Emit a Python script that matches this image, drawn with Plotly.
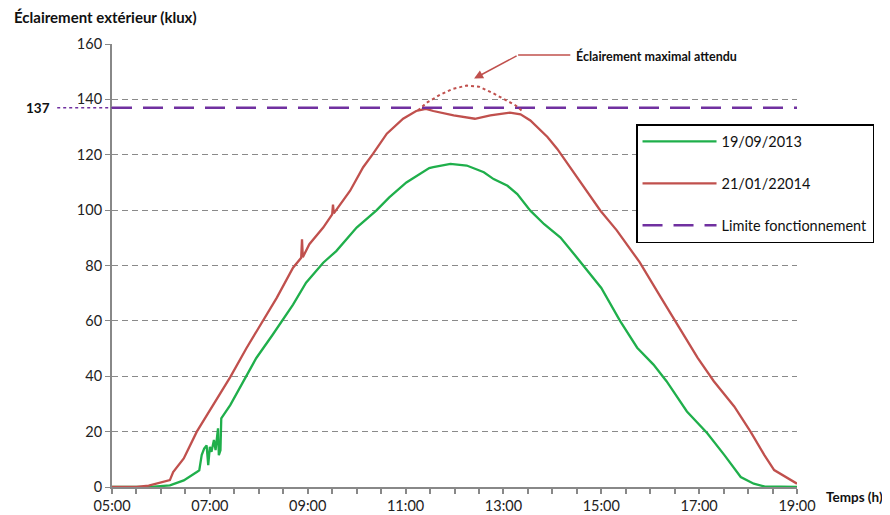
import plotly.graph_objects as go

DAY = "2000-01-01 "

# 19/09/2013 series (klux)
green_times = ["05:00", "05:47", "06:11", "06:28", "06:44", "06:47", "06:50", "06:53", "06:56", "06:58",
               "07:00", "07:02", "07:05", "07:07", "07:10", "07:11", "07:13", "07:14", "07:25", "07:41",
               "07:57", "08:17", "08:28", "08:42", "08:58", "09:19", "09:35", "10:00", "10:24", "10:40",
               "11:01", "11:17", "11:29", "11:34", "11:55", "12:15", "12:36", "12:48", "13:05", "13:17",
               "13:33", "13:50", "14:10", "14:27", "14:43", "15:00", "15:23", "15:44", "16:04", "16:20",
               "16:45", "17:10", "17:31", "17:51", "18:07", "18:20", "19:00"]
green_vals = [0, 0, 0.6, 2.4, 5.4, 6, 11.5, 13.9, 15, 7.9,
              14.5, 12.7, 17, 13.3, 21.2, 11.5, 13.3, 24.8, 29.6, 38.1,
              46.6, 55, 59.9, 65.9, 73.8, 81, 85.2, 93.7, 99.8, 104.6,
              110, 113, 115.2, 115.5, 116.7, 116.1, 113.7, 111.2, 108.8, 105.8,
              99.8, 94.9, 90.1, 84, 78, 71.9, 60, 50.3, 44.2, 38.2,
              27.3, 19.4, 11.5, 3.6, 1.2, 0.2, 0]

# 21/01/2014 series (klux)
red_times = ["05:00", "05:30", "05:45", "06:00", "06:11", "06:15", "06:28", "06:44", "07:04", "07:25",
             "07:45", "08:05", "08:22", "08:42", "08:52", "08:53", "08:54", "09:02", "09:19", "09:30",
             "09:31", "09:32", "09:52", "10:08", "10:20", "10:37", "10:57", "11:13", "11:25", "11:34",
             "11:59", "12:25", "12:44", "13:08", "13:21", "13:33", "13:54", "14:06", "14:19", "14:39",
             "14:59", "15:19", "15:47", "16:13", "16:33", "16:58", "17:18", "17:43", "18:03", "18:20",
             "18:32", "18:49", "19:00"]
red_vals = [0, 0, 0.5, 1.5, 2.5, 5.4, 10.3, 20, 29.6, 39.7,
            50.2, 59.9, 68.3, 79.2, 82.8, 89.5, 83, 87.7, 93.7, 98.5,
            102, 98.8, 107, 115.5, 120.3, 127.6, 133, 135.8, 136.6, 135.8,
            134.2, 133, 134.2, 135.2, 134.6, 132.4, 126.4, 122.1, 116.7, 108.2,
            99.8, 92.7, 81.2, 68.5, 58.8, 46.7, 38.2, 29.1, 20, 11.5,
            6.1, 3, 1.2]

# Expected maximum illumination (dotted arc)
expected_times = ["11:15", "11:27", "11:42", "11:57", "12:15", "12:30", "12:47", "13:02", "13:15", "13:24"]
expected_vals = [136, 139, 141.6, 143.7, 145, 144.6, 142.3, 140, 137.8, 135.5]

# Operating limit
limit_value = 137
x_range = ["05:00", "19:00"]

GREEN = "#1FAF4B"
RED = "#C0504D"
PURPLE = "#7030A0"
FONT = "Lato"

def t(lst):
    return [DAY + s for s in lst]

fig = go.Figure()
fig.add_trace(go.Scatter(x=t(green_times), y=green_vals, mode="lines", name="19/09/2013",
                         line=dict(color=GREEN, width=2.3), legendgroup="g1"))
fig.add_trace(go.Scatter(x=t(red_times), y=red_vals, mode="lines", name="21/01/22014",
                         line=dict(color=RED, width=2.3), legendgroup="g2"))
fig.add_trace(go.Scatter(x=t(x_range), y=[limit_value, limit_value], mode="lines",
                         name="Limite fonctionnement",
                         line=dict(color=PURPLE, width=2.5, dash="20px,11px"), legendgroup="g3"))
fig.add_trace(go.Scatter(x=t(expected_times), y=expected_vals, mode="lines", showlegend=False,
                         line=dict(color=RED, width=2, dash="dot"), legendgroup="g4"))

# The page body adds an 8px margin, so the figure is sized/offset to compensate.
fig.update_layout(
    width=882, height=507,
    margin=dict(l=104, r=93, t=36, b=28, autoexpand=False),
    paper_bgcolor="white", plot_bgcolor="white",
    font=dict(family=FONT, size=14, color="#222"),
    showlegend=True,
    legend=dict(x=0.765, y=0.8194, xanchor="left", yanchor="top",
                bordercolor="black", borderwidth=1.5, bgcolor="white",
                font=dict(family=FONT, size=14.5, color="#111"),
                tracegroupgap=20, itemwidth=74, traceorder="grouped"),
)

fig.update_xaxes(
    type="date", range=t(x_range), tickformat="%H:%M",
    tick0=DAY + "05:00", dtick=2 * 3600 * 1000,
    ticks="outside", ticklen=5, tickcolor="#888", tickwidth=1.5,
    minor=dict(dtick=30 * 60 * 1000, ticks="outside", ticklen=5, tickcolor="#888", tickwidth=1.5),
    showline=True, linecolor="#888", linewidth=2, showgrid=False, zeroline=False,
    tickfont=dict(family=FONT, size=14.5, color="#222"),
)
fig.update_yaxes(
    range=[0, 160], dtick=20, ticks="outside", ticklen=5, tickcolor="#888",
    showline=True, linecolor="#888", linewidth=2,
    showgrid=True, gridcolor="#8a8a8a", gridwidth=1, griddash="6px,4px", zeroline=False,
    tickfont=dict(family=FONT, size=14.5, color="#222"),
)

# Axis titles
fig.add_annotation(text="<b>Éclairement extérieur (klux)</b>", xref="paper", yref="paper",
                   x=-0.146, y=1.061, xanchor="left", yanchor="middle", showarrow=False,
                   font=dict(family=FONT, size=15, color="#111"))
fig.add_annotation(text="<b>Temps (h)</b>", xref="paper", yref="paper",
                   x=1.0394, y=-0.023, xanchor="left", yanchor="middle", showarrow=False,
                   font=dict(family=FONT, size=13.5, color="#111"))

# 137 label with dotted leader
fig.add_annotation(text="<b>137</b>", xref="paper", yref="y", x=-0.087, y=limit_value,
                   xanchor="right", yanchor="middle", showarrow=False,
                   font=dict(family=FONT, size=13.5, color="#111"))
fig.add_shape(type="line", xref="paper", yref="y", x0=-0.08, x1=0, y0=limit_value, y1=limit_value,
              line=dict(color=PURPLE, width=1.5, dash="dot"))

# Expected max annotation
fig.add_shape(type="line", xref="x", yref="y", x0=DAY + "13:18", x1=DAY + "14:22", y0=156, y1=156,
              line=dict(color=RED, width=1.5))
fig.add_annotation(text="", x=DAY + "12:24", y=147.5, ax=DAY + "13:18", ay=156,
                   xref="x", yref="y", axref="x", ayref="y",
                   showarrow=True, arrowhead=2, arrowsize=1.2, arrowwidth=1.5, arrowcolor=RED)
fig.add_annotation(text="<b>Éclairement maximal attendu</b>", x=DAY + "14:26", y=155.5,
                   xref="x", yref="y", xanchor="left", yanchor="middle", showarrow=False,
                   font=dict(family=FONT, size=12.5, color="#111"))

fig.write_html("out.html")
